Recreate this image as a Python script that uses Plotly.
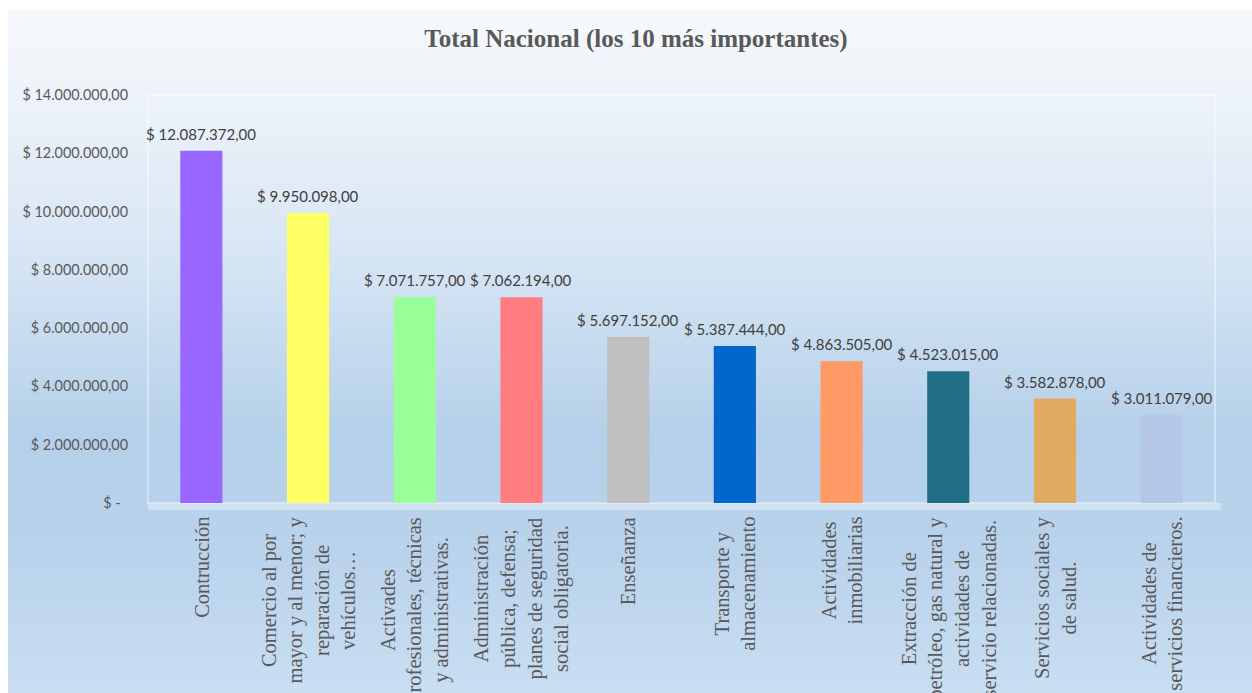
import plotly.graph_objects as go

# Data: top 10 economic sectors, national total
categories = [
    "Contrucción",
    "Comercio al por<br>mayor y al menor; y<br>reparación de<br>vehículos…",
    "Activades<br>profesionales, técnicas<br>y administrativas.",
    "Administración<br>pública, defensa;<br>planes de seguridad<br>social obligatoria.",
    "Enseñanza",
    "Transporte y<br>almacenamiento",
    "Actividades<br>inmobiliarias",
    "Extracción de<br>petróleo, gas natural y<br>actividades de<br>servicio relacionadas.",
    "Servicios sociales y<br>de salud.",
    "Actividades de<br>servicios financieros.",
]
values = [12087372, 9950098, 7071757, 7062194, 5697152,
          5387444, 4863505, 4523015, 3582878, 3011079]
bar_colors = ["#9966FF", "#FFFF66", "#99FF99", "#FF7C80", "#BFBFBF",
              "#0066CC", "#FF9966", "#226E86", "#E0AA60", "#B4C7E7"]

tick_vals = [0, 2000000, 4000000, 6000000, 8000000, 10000000, 12000000, 14000000]
tick_text = ["$ -\u00a0\u00a0", "$ 2.000.000,00", "$ 4.000.000,00", "$ 6.000.000,00",
             "$ 8.000.000,00", "$ 10.000.000,00", "$ 12.000.000,00", "$ 14.000.000,00"]


def money(v):
    s = f"{v:,.2f}".replace(",", "X").replace(".", ",").replace("X", ".")
    return f"$ {s}"


# Figure geometry (pixels)
W, H = 1252, 693
PL, PR, PT, PB = 148, 1215, 95, 503
CHART_L, CHART_T = 8, 10


def px_x(p):
    return (p - PL) / (PR - PL)


def px_y(p):
    return (PB - p) / (PB - PT)


fig = go.Figure()
fig.add_trace(go.Bar(
    x=categories, y=values,
    marker=dict(color=bar_colors, line=dict(width=0)),
    hoverinfo="skip",
))

shapes = []
# chart area vertical gradient background
stops = [
    (0.00, (246, 248, 252)),
    (0.10, (239, 244, 250)),
    (0.35, (216, 230, 244)),
    (0.62, (181, 208, 234)),
    (0.80, (186, 211, 236)),
    (1.00, (201, 222, 241)),
]


def grad(t):
    for (t0, c0), (t1, c1) in zip(stops[:-1], stops[1:]):
        if t0 <= t <= t1:
            f = (t - t0) / (t1 - t0) if t1 > t0 else 0
            return tuple(round(a + (b - a) * f) for a, b in zip(c0, c1))
    return stops[-1][1]


step = 2
y = CHART_T
while y < H:
    y2 = min(y + step, H)
    c = grad((y - CHART_T) / (H - CHART_T))
    shapes.append(dict(
        type="rect", xref="paper", yref="paper", layer="below",
        x0=px_x(CHART_L), x1=px_x(W), y0=px_y(y2 + 0.5), y1=px_y(y),
        fillcolor=f"rgb({c[0]},{c[1]},{c[2]})", line=dict(width=0),
    ))
    y = y2

# plot area outline
shapes.append(dict(
    type="rect", xref="paper", yref="paper", layer="below",
    x0=0, x1=1, y0=0, y1=1,
    line=dict(color="rgba(255,255,255,0.5)", width=1.5),
    fillcolor="rgba(0,0,0,0)",
))
# floor strip under the baseline
shapes.append(dict(
    type="rect", xref="paper", yref="paper", layer="below",
    x0=0, x1=px_x(PR + 6), y0=px_y(PB + 7), y1=0,
    line=dict(width=0), fillcolor="rgba(232,241,250,0.5)",
))

annotations = []
# value labels above each bar
for cat, v in zip(categories, values):
    annotations.append(dict(
        x=cat, y=v, xref="x", yref="y", text=money(v), showarrow=False,
        yanchor="bottom", yshift=6,
        font=dict(family="Lato, Liberation Sans, sans-serif", size=15, color="#404040"),
    ))
# rotated category labels under the axis
for cat in categories:
    annotations.append(dict(
        x=cat, y=0, xref="x", yref="paper", text=cat, showarrow=False,
        textangle=-90, yanchor="top", xanchor="center", align="center",
        yshift=-12,
        font=dict(family="Liberation Serif, Times New Roman, serif", size=20.5, color="#595959"),
    ))

fig.update_layout(
    width=W, height=H,
    margin=dict(l=PL, r=W - PR, t=PT, b=H - PB, pad=0),
    paper_bgcolor="white",
    plot_bgcolor="rgba(0,0,0,0)",
    showlegend=False,
    bargap=0.605,
    title=dict(
        text="<b>Total Nacional (los 10 más importantes)</b>",
        x=636 / W, xref="container", xanchor="center",
        y=1 - 38 / H, yref="container", yanchor="middle",
        font=dict(family="Liberation Serif, Times New Roman, serif", size=25, color="#595959"),
    ),
    xaxis=dict(
        range=[-0.5, len(categories) - 0.5],
        showticklabels=False, showgrid=False, zeroline=False, showline=False,
        ticks="", fixedrange=True, automargin=False,
    ),
    yaxis=dict(
        range=[0, 14000000], tickvals=tick_vals, ticktext=tick_text,
        showgrid=False, zeroline=False, showline=False, ticks="",
        ticklabelstandoff=19, automargin=False,
        tickfont=dict(family="Lato, Liberation Sans, sans-serif", size=14.4, color="#595959"),
        fixedrange=True,
    ),
    shapes=shapes,
    annotations=annotations,
)

fig.write_html("out.html", config={"displayModeBar": False})
